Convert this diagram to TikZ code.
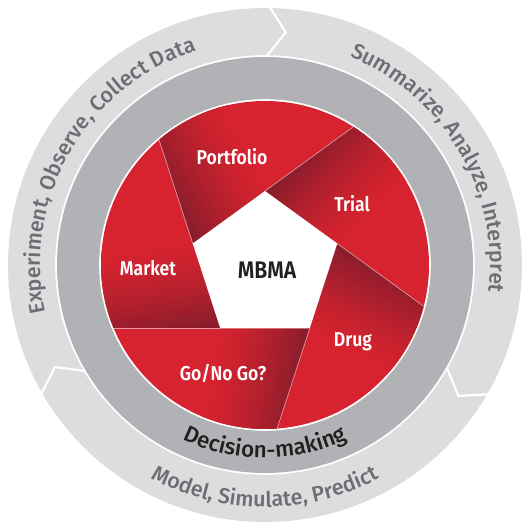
\documentclass[tikz,border=0pt]{standalone}
\usepackage{fontspec}
\setmainfont{Fira Sans}
\newfontfamily\cyclefont{Fira Sans Medium}
\newfontfamily\bladefont{Fira Sans SemiBold}[FakeStretch=0.88]
\usetikzlibrary{decorations.text,calc}

\definecolor{ringlight}{HTML}{DCDDDF}
\definecolor{ringdark}{HTML}{B1B2B5}
\definecolor{bladered}{HTML}{D7232F}
\definecolor{bladedark}{HTML}{861C2B}
\definecolor{cycletext}{HTML}{6D6E71}
\definecolor{inktext}{HTML}{231F20}

\begin{document}
\begin{tikzpicture}[x=1pt,y=1pt,
  bladelabel/.style={text=white, inner sep=0pt,
    font=\bladefont\fontsize{20}{24}\selectfont},
  hublabel/.style={text=inktext, inner sep=0pt,
    font=\bladefont\fontsize{24}{28}\selectfont},
  chevron/.style={white, line width=2.2pt, line join=miter},
  seam/.style={white, opacity=.55, line width=.7pt}]
\useasboundingbox (-265,-259) rectangle (260,265);

% outer cycle of three arrows
\fill[ringlight] (0,0) circle[radius=257];
\foreach \b in {89.5,-29.5,-149.5}
  \draw[chevron] (\b:262) -- (\b-4.6:233.5) -- (\b:209);
\fill[white] (0,0) circle[radius=209.8];

% decision-making ring
\fill[ringdark] (0,0) circle[radius=208];
\fill[white] (0,0) circle[radius=165.8];
\fill[bladered] (0,0) circle[radius=164];

% pentagon corners
\coordinate (v0) at ([shift={(0,-2)}]90:76);
\coordinate (v1) at ([shift={(0,-2)}]18:76);
\coordinate (v2) at ([shift={(0,-2)}]-54:76);
\coordinate (v3) at ([shift={(0,-2)}]-126:76);
\coordinate (v4) at ([shift={(0,-2)}]162:76);

% aperture blades, each shaded from its leading corner outwards
\begin{scope}
  \clip (0,0) circle[radius=164];
  \foreach \a/\b/\da/\db in {v4/v0/108/36, v0/v1/36/-36, v1/v2/-36/-108,
                             v2/v3/-108/180, v3/v4/180/108} {
    \begin{scope}
      \clip (\a) -- (\b) -- ($(\b)+(\db:400)$) -- ($(\a)+(\da:400)$) -- cycle;
      \foreach \s in {0,...,47} {
        \pgfmathsetmacro\mix{100*(1-\s/48)^1.5}
        \fill[bladedark!\mix!bladered, shift={(\a)}, rotate=\da+10]
          (-300,-2*\s) rectangle (500,-2*\s-2.4);
      }
    \end{scope}
  }
  \foreach \v/\d in {v0/36, v1/-36, v2/-108, v3/180, v4/108}
    \draw[seam] (\v) -- ++(\d:220);
\end{scope}

% central pentagon
\fill[white] (v0) -- (v1) -- (v2) -- (v3) -- (v4) -- cycle;

% labels
\node[hublabel]   (mbma)      at (2,-5)     {MBMA};
\node[bladelabel] (portfolio) at (-33,108)  {Portfolio};
\node[bladelabel] (trial)     at (87,61)    {Trial};
\node[bladelabel] (drug)      at (88,-77)   {Drug};
\node[bladelabel] (gonogo)    at (-42,-108) {Go/No Go?};
\node[bladelabel] (market)    at (-117,-3)  {Market};

% curved captions
\path[decorate, decoration={text along path, text align=center,
  text={|\cyclefont\fontsize{22.5}{26}\selectfont\color{inktext}|Decision-making}}]
  (225:193) arc[start angle=225, end angle=315, radius=193];
\path[decorate, decoration={text along path, text align=center,
  text={|\cyclefont\fontsize{21.5}{25}\selectfont\color{cycletext}|Experiment, Observe, Collect Data}}]
  (205:225) arc[start angle=205, end angle=95, radius=225];
\path[decorate, decoration={text along path, text align=center,
  text={|\cyclefont\fontsize{21.5}{25}\selectfont\color{cycletext}|Summarize, Analyze, Interpret}}]
  (80:225) arc[start angle=80, end angle=-19, radius=225];
\path[decorate, decoration={text along path, text align=center,
  text={|\cyclefont\fontsize{21.5}{25}\selectfont\color{cycletext}|Model, Simulate, Predict}}]
  (220:242) arc[start angle=220, end angle=320, radius=242];
\end{tikzpicture}
\end{document}
